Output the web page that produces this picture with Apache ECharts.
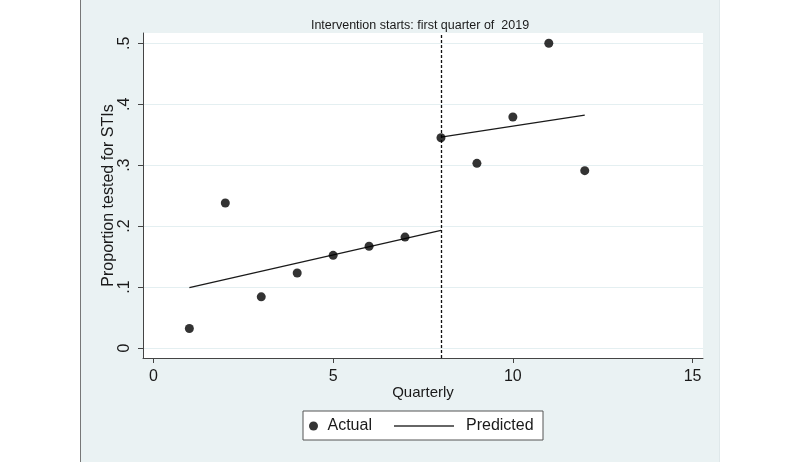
<!DOCTYPE html>
<html>
<head>
<meta charset="utf-8">
<script src="https://cdn.jsdelivr.net/npm/echarts@6/dist/echarts.min.js"></script>
<style>
  html, body { margin: 0; padding: 0; background: #fff; }
  #chart { width: 800px; height: 462px; }
</style>
</head>
<body>
<div id="chart"></div>
<script>
// quarters and observed proportions
const quarters = [1, 2, 3, 4, 5, 6, 7, 8, 9, 10, 11, 12]
const actual = [0.032, 0.238, 0.084, 0.123, 0.152, 0.167, 0.182, 0.345, 0.303, 0.379, 0.500, 0.291]
// fitted segments, before and after the intervention
const predPre = [[1, 0.099], [8, 0.193]]
const predPost = [[8, 0.346], [12, 0.382]]
const interventionAt = 8
const xTicks = [0, 5, 10, 15]
const yTicks = [0, 0.1, 0.2, 0.3, 0.4, 0.5]
const yTickLabels = ['0', '.1', '.2', '.3', '.4', '.5']

const font = 'Liberation Sans, Arial, sans-serif'
const ink = '#1a1a1a'

const chart = echarts.init(document.getElementById('chart'), null, { renderer: 'canvas' })

const option = {
  backgroundColor: '#fff',
  animation: false,
  textStyle: { fontFamily: font },
  title: {
    text: 'Intervention starts: first quarter of  2019',
    left: 415,
    top: 14,
    textAlign: 'center',
    textStyle: { fontSize: 12.5, fontWeight: 'normal', color: ink, fontFamily: font }
  },
  graphic: [
    {
      type: 'rect', z: -10, silent: true,
      shape: { x: 81, y: 0, width: 638, height: 462 },
      style: { fill: '#eaf2f3' }
    },
    {
      type: 'line', z: -9, silent: true,
      shape: { x1: 80.5, y1: 0, x2: 80.5, y2: 462 },
      style: { stroke: '#777', lineWidth: 1 }
    },
    {
      type: 'line', z: -9, silent: true,
      shape: { x1: 719.5, y1: 0, x2: 719.5, y2: 462 },
      style: { stroke: '#dfe8ea', lineWidth: 1 }
    },
    {
      type: 'rect', z: 1, silent: true,
      shape: { x: 303, y: 411, width: 240, height: 29 },
      style: { fill: '#fff', stroke: '#555', lineWidth: 1 }
    }
  ],
  legend: [
    {
      data: ['Actual'],
      left: 304, top: 413,
      itemWidth: 14, itemHeight: 9,
      itemGap: 0,
      textStyle: { fontSize: 16, color: ink, fontFamily: font, padding: [0, 0, 0, 2] }
    },
    {
      data: [{ name: 'Predicted', icon: 'rect' }],
      left: 389, top: 413,
      itemWidth: 60, itemHeight: 1.6,
      textStyle: { fontSize: 16, color: ink, fontFamily: font, padding: [0, 0, 0, 7] }
    }
  ],
  grid: {
    left: 143, right: 97, top: 33, bottom: 104,
    show: true, backgroundColor: '#fff', borderWidth: 0
  },
  xAxis: {
    type: 'value',
    min: -0.29, max: 15.29,
    name: 'Quarterly',
    nameLocation: 'middle',
    nameGap: 27,
    nameMoveOverlap: false,
    nameTextStyle: { fontSize: 15, color: ink, fontFamily: font },
    axisLine: { show: true, onZero: false, lineStyle: { color: '#444', width: 1 } },
    axisTick: { show: true, length: 5, customValues: xTicks, lineStyle: { color: '#444' } },
    axisLabel: { customValues: xTicks, margin: 11, fontSize: 16, color: ink, fontFamily: font },
    splitLine: { show: false }
  },
  yAxis: {
    type: 'value',
    min: -0.0164, max: 0.5169,
    name: 'Proportion tested for STIs',
    nameLocation: 'middle',
    nameGap: 26,
    nameMoveOverlap: false,
    nameTextStyle: { fontSize: 16, color: ink, fontFamily: font },
    axisLine: { show: true, onZero: false, lineStyle: { color: '#444', width: 1 } },
    axisTick: { show: true, length: 5, customValues: yTicks, lineStyle: { color: '#444' } },
    axisLabel: {
      customValues: yTicks,
      rotate: 90,
      margin: 10,
      fontSize: 16,
      color: ink,
      fontFamily: font,
      formatter: v => yTickLabels[yTicks.findIndex(t => Math.abs(t - v) < 1e-6)] ?? ''
    },
    splitLine: { show: true, lineStyle: { color: '#e4eff1', width: 1 } }
  },
  series: [
    {
      name: 'Actual',
      type: 'scatter',
      symbol: 'circle',
      symbolSize: 9,
      itemStyle: { color: '#000' },
      data: quarters.map((q, i) => [q, actual[i]]),
      z: 5
    },
    {
      name: 'Predicted',
      type: 'line',
      symbol: 'none',
      showSymbol: false,
      lineStyle: { color: ink, width: 1.3 },
      itemStyle: { color: '#333' },
      data: predPre,
      markLine: {
        silent: true,
        symbol: 'none',
        label: { show: false },
        lineStyle: { color: '#111', type: [3, 2], width: 1.3 },
        data: [{ xAxis: interventionAt }]
      }
    },
    {
      name: 'Predicted',
      type: 'line',
      symbol: 'none',
      showSymbol: false,
      lineStyle: { color: ink, width: 1.3 },
      itemStyle: { color: '#333' },
      data: predPost
    }
  ]
}

chart.setOption(option)
</script>
</body>
</html>
